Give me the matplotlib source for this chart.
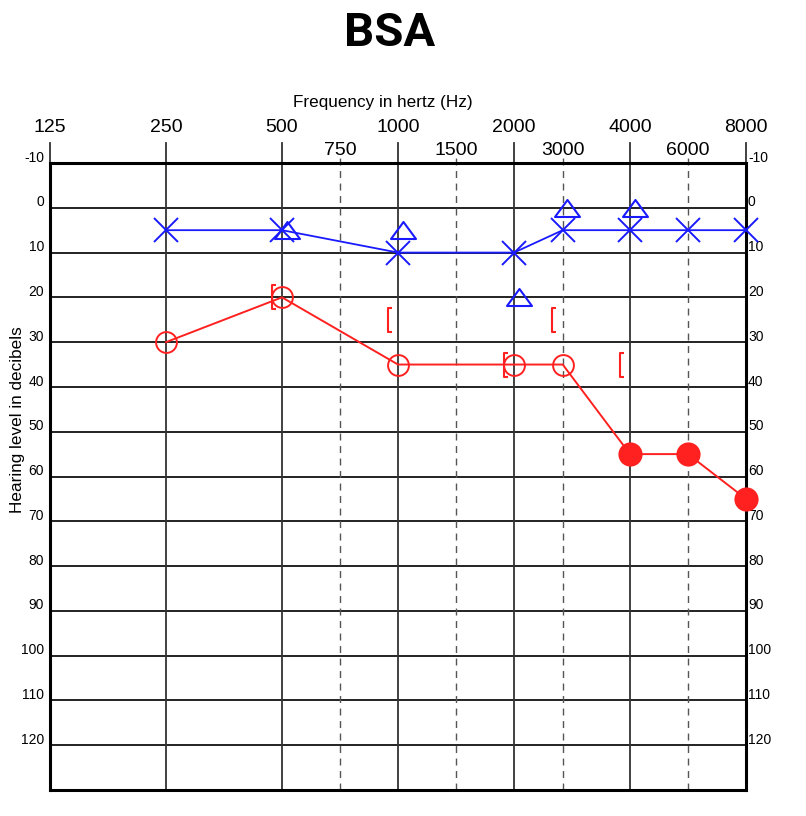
import matplotlib
matplotlib.use("Agg")
import matplotlib.pyplot as plt
import matplotlib.transforms as mtransforms
from matplotlib.path import Path
import numpy as np

# ---- data ----
octave_freqs = [125, 250, 500, 1000, 2000, 4000, 8000]
mid_freqs = [750, 1500, 3000, 6000]
db_levels = list(range(-10, 130, 10))

air_freqs = [250, 500, 1000, 2000, 3000, 4000, 6000, 8000]
left_air = [5, 5, 10, 10, 5, 5, 5, 5]          # blue X
right_air = [30, 20, 35, 35, 35, 55, 55, 65]   # red O
right_filled = [False, False, False, False, False, True, True, True]

tri_freqs = [500, 1000, 2000, 3000, 4000]
left_bone = [5, 5, 20, 0, 0]                   # blue triangles

br_freqs = [500, 1000, 2000, 3000, 4000]
right_bone = [20, 25, 35, 25, 35]              # red brackets

title = "BSA"
xlabel = "Frequency in hertz (Hz)"
ylabel = "Hearing level in decibels"

# audiogram frequency axis: octaves evenly spaced, inter-octave lines as printed
scale_freqs = [125, 250, 500, 750, 1000, 1500, 2000, 3000, 4000, 6000, 8000]
scale_pos = [0, 1, 2, 2.5, 3, 3.5, 4, 4.42, 5, 5.5, 6]
lf = np.log2(scale_freqs)


def fwd(f):
    f = np.asarray(f, dtype=float)
    with np.errstate(divide="ignore", invalid="ignore"):
        lg = np.log2(np.where(f > 0, f, 1e-9))
    return np.interp(lg, lf, scale_pos, left=-10, right=10)


def inv(p):
    p = np.asarray(p, dtype=float)
    return 2 ** np.interp(p, scale_pos, lf)


# ---- figure ----
fig = plt.figure(figsize=(8.06, 8.16), dpi=100)
ax = fig.add_axes([50/806, 26/816, 696/806, 627/816])
ax.set_xscale("function", functions=(fwd, inv))
ax.set_xlim(125, 8000)
ax.set_ylim(130, -10)
ax.set_xticks([])
ax.set_yticks([])
ax.minorticks_off()
ax.tick_params(which="both", length=0)
for s in ax.spines.values():
    s.set_linewidth(2.2)
    s.set_color("black")

arial = ["Liberation Sans", "DejaVu Sans"]
narrow = ["Liberation Sans Narrow", "Liberation Sans", "DejaVu Sans"]

# grid
for d in db_levels[1:]:
    ax.axhline(d, color="#222222", lw=1.4, zorder=1)
ax.axhline(-10, color="black", lw=2.0, zorder=1)
for f in octave_freqs:
    ax.plot([f, f], [130, -14.5], color="#333333", lw=1.3, clip_on=False, zorder=1)
for f in mid_freqs:
    ax.plot([f, f], [130, -11.5], color="#555555", lw=1.0, ls=(0, (5, 4)),
            clip_on=False, zorder=1)

# frequency labels
for f in octave_freqs:
    ax.text(f, -18.0, str(f), ha="center", va="center", fontsize=14,
            family=arial, clip_on=False)
for f in mid_freqs:
    ax.text(f, -12.7, str(f), ha="center", va="center", fontsize=14,
            family=arial, clip_on=False)
fig.text(383/806, 1 - 103/816, xlabel, ha="center", va="center",
         fontsize=12.3, family=arial)

# dB labels (both sides)
ytr = ax.get_yaxis_transform()
for d in db_levels:
    ax.text(-6/696, d - 1.2, str(d), ha="right", va="center", fontsize=10,
            family=narrow, transform=ytr, clip_on=False)
    ax.text(1 + 2/696, d - 1.2, str(d), ha="left", va="center", fontsize=10,
            family=narrow, transform=ytr, clip_on=False)

fig.text(18/806, 1 - 420/816, ylabel, rotation=90, ha="center", va="center",
         fontsize=12.3, family=arial)
fig.text(390/806, 1 - 33/816, title, ha="center", va="center", fontsize=34,
         fontweight="bold", family=["Roboto", "DejaVu Sans"])

blue = "#1a1aff"
red = "#ff2020"


def shifted(dx_px):
    return ax.transData + mtransforms.ScaledTranslation(dx_px / 100, 0, fig.dpi_scale_trans)


# blue X line
ax.plot(air_freqs, left_air, color=blue, lw=1.3, marker="x", markersize=17,
        markeredgewidth=1.4, zorder=3, clip_on=False)

# blue triangles (wide)
tri = Path([(0, 0.68), (-1, -0.68), (1, -0.68), (0, 0.68)],
           [Path.MOVETO, Path.LINETO, Path.LINETO, Path.CLOSEPOLY])
ax.plot(tri_freqs, left_bone, ls="none", marker=tri, markersize=18,
        markerfacecolor="none", markeredgecolor=blue, markeredgewidth=1.5,
        zorder=3, transform=shifted(4.5), clip_on=False)

# red O line
ax.plot(air_freqs, right_air, color=red, lw=1.4, zorder=3, clip_on=False)
for f, v, filled in zip(air_freqs, right_air, right_filled):
    ax.plot([f], [v], ls="none", marker="o", markersize=15 if not filled else 16,
            markerfacecolor=red if filled else "none", markeredgecolor=red,
            markeredgewidth=1.4, zorder=4, clip_on=False)

# red brackets
bracket = Path([(0.35, -1.0), (0.0, -1.0), (0.0, 1.0), (0.35, 1.0)],
               [Path.MOVETO, Path.LINETO, Path.LINETO, Path.LINETO])
ax.plot(br_freqs, right_bone, ls="none", marker=bracket, markersize=17,
        markerfacecolor="none", markeredgecolor=red, markeredgewidth=1.5,
        zorder=3, transform=shifted(-10.5), clip_on=False)

fig.savefig("out.png", dpi=100)
